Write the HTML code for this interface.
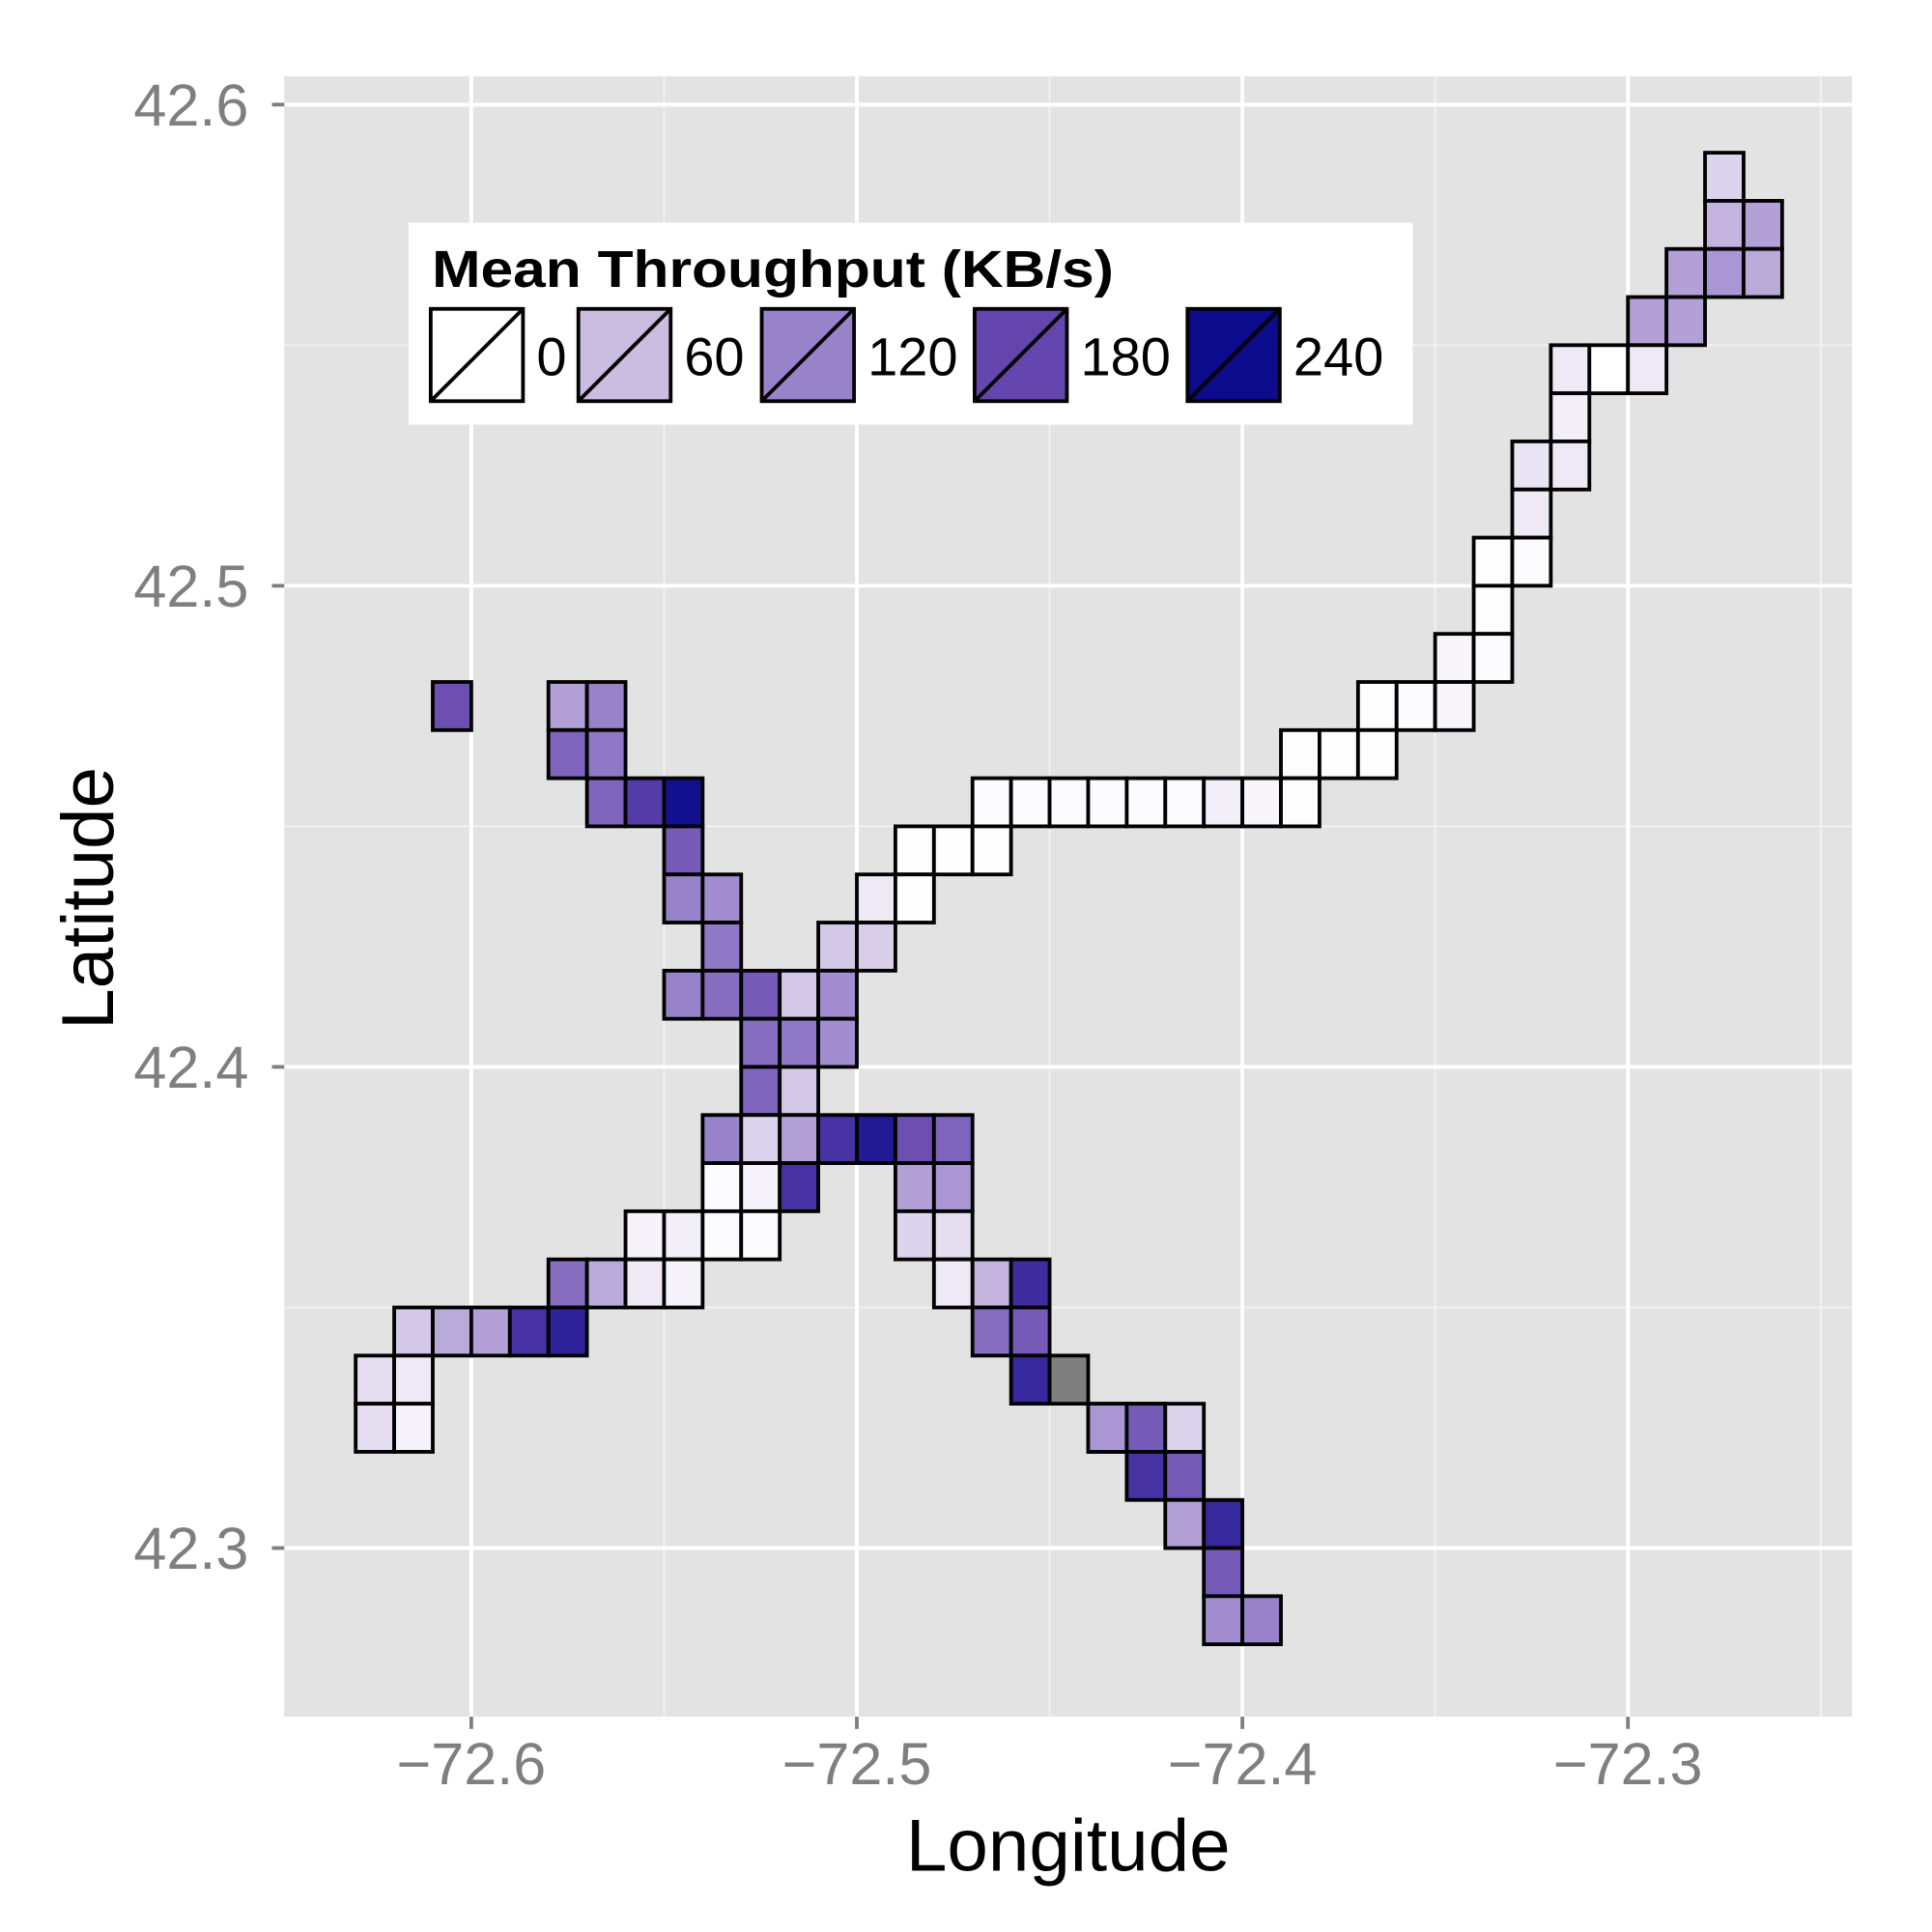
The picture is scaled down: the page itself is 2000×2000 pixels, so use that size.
<!DOCTYPE html>
<html><head><meta charset="utf-8"><style>html,body{margin:0;padding:0;background:#fff}svg{display:block}</style></head>
<body>
<svg id="chart" xmlns="http://www.w3.org/2000/svg" width="2000" height="2000" viewBox="0 0 1570 1570" font-family="'Liberation Sans', Arial, sans-serif">
<rect width="1570" height="1570" fill="#fff"/>
<rect x="231" y="62" width="1274" height="1333" fill="#e3e3e3"/>
<g id="grid"></g>
<g id="cells"></g>
<g id="axes"></g>
<g>
<rect x="332" y="181" width="816" height="164" fill="#fff"/>
<text x="351" y="233" font-size="42" font-weight="bold" textLength="554" lengthAdjust="spacingAndGlyphs">Mean Throughput (KB/s)</text>
<g id="legend-keys"></g>
</g>
<text x="868" y="1520" font-size="60" text-anchor="middle">Longitude</text>
<text transform="translate(92,730) rotate(-90)" font-size="60" text-anchor="middle">Latitude</text>
</svg>
<script>
const xTicks = [-72.6, -72.5, -72.4, -72.3];
const xTickLabels = ["\u221272.6", "\u221272.5", "\u221272.4", "\u221272.3"];
const yTicks = [42.3, 42.4, 42.5, 42.6];
const yTickLabels = ["42.3", "42.4", "42.5", "42.6"];
const xMinor = [-72.55, -72.45, -72.35, -72.25];
const yMinor = [42.35, 42.45, 42.55];
const legendValues = [0, 60, 120, 180, 240];
// cells: column index (lon left = -72.63 + c*0.01), row index (lat top = 42.59 - r*0.01), value (KB/s, null = NA)
const cellCols = [35,35,36,34,35,36,33,34,31,32,33,31,30,31,30,29,30,29,28,29,26,27,28,24,25,26,
16,17,18,19,20,21,22,23,24,6,7,8,2,5,6,5,6,14,15,16,8,13,14,8,9,12,13,9,8,9,10,11,12,10,11,12,10,11,
9,10,11,12,13,14,15,9,10,11,14,15,7,8,9,10,14,15,5,6,7,8,15,16,17,1,2,3,4,5,16,17,0,1,17,18,19,20,0,1,19,20,21,20,21,21,22,22,22,23];
const cellRows = [0,1,1,2,2,2,3,3,4,4,4,5,6,6,7,8,8,9,10,10,11,11,11,12,12,12,
13,13,13,13,13,13,13,13,13,13,13,13,11,11,11,12,12,14,14,14,14,15,15,15,15,16,16,16,17,17,17,17,17,18,18,18,19,19,
20,20,20,20,20,20,20,21,21,21,21,21,22,22,22,22,22,22,23,23,23,23,23,23,23,24,24,24,24,24,24,24,25,25,25,25,26,26,26,26,26,26,26,27,27,28,28,29,30,30];
const cellValues = [40,70,90,90,100,80,90,90,20,0,20,15,25,20,20,2,5,2,8,3,2,5,8,2,2,2,
3,3,5,5,5,5,15,8,2,150,190,235,170,90,120,150,130,2,2,2,160,20,2,120,110,50,45,130,120,140,160,50,110,140,130,110,150,50,
120,40,90,200,225,170,150,3,10,200,90,100,10,15,5,3,40,30,140,80,20,10,20,70,205,50,80,90,200,215,140,160,30,20,210,null,190,100,30,10,100,160,40,200,160,90,210,160,110,120];

const NS = "http://www.w3.org/2000/svg";
const x = lon => 383 + (lon + 72.6) * 3133;
const y = lat => 85 + (42.6 - lat) * 3910;
const stops = [[255,255,255],[203,189,226],[152,131,203],[100,69,173],[11,11,140]];
function color(v){
  if (v === null) return "#7f7f7f";
  const t = Math.max(0, Math.min(240, v)) / 60; const i = Math.min(3, Math.floor(t)); const f = t - i;
  const c = stops[i].map((a, k) => Math.round(a + (stops[i+1][k] - a) * f));
  return "rgb(" + c.join(",") + ")";
}
function mk(tag, attrs, parent){ const e = document.createElementNS(NS, tag); for (const k in attrs) e.setAttribute(k, attrs[k]); parent.appendChild(e); return e; }
const grid = document.getElementById("grid");
xMinor.forEach(v => { const l = mk("line", {x1:x(v), x2:x(v), y1:62, y2:1395, stroke:"#f2f2f2", "stroke-width":1.5}, grid);

 });
yMinor.forEach(v => { const l = mk("line", {y1:y(v), y2:y(v), x1:231, x2:1505, stroke:"#f2f2f2", "stroke-width":1.5}, grid);

 });
xTicks.forEach(v => { const l = mk("line", {x1:x(v), x2:x(v), y1:62, y2:1395, stroke:"#fff", "stroke-width":3}, grid);

 });
yTicks.forEach(v => { const l = mk("line", {y1:y(v), y2:y(v), x1:231, x2:1505, stroke:"#fff", "stroke-width":3}, grid);

 });

const cells = document.getElementById("cells");
const cw = x(-72.62) - x(-72.63), ch = y(42.58) - y(42.59);
cellValues.forEach((v, i) => {
  const lon = -72.63 + cellCols[i] * 0.01, lat = 42.59 - cellRows[i] * 0.01;
  const r = mk("rect", {x:x(lon), y:y(lat), width:cw, height:ch, fill:color(v), stroke:"#000", "stroke-width":3}, cells);
  
  
});

const axes = document.getElementById("axes");
xTicks.forEach((v, i) => {
  const t = mk("line", {x1:x(v), x2:x(v), y1:1395, y2:1405, stroke:"#7f7f7f", "stroke-width":3}, axes);
  
  
  const s = mk("text", {x:x(v), y:1450, "font-size":48, fill:"#7f7f7f", "text-anchor":"middle"}, axes);
  s.textContent = xTickLabels[i];
  
  
});
yTicks.forEach((v, i) => {
  const t = mk("line", {x1:221, x2:231, y1:y(v), y2:y(v), stroke:"#7f7f7f", "stroke-width":3}, axes);
  
  
  const s = mk("text", {x:202, y:y(v) + 17, "font-size":48, fill:"#7f7f7f", "text-anchor":"end"}, axes);
  s.textContent = yTickLabels[i];
  
  
});

const lk = document.getElementById("legend-keys");
const keyX = [350, 470, 619, 792, 965];
legendValues.forEach((v, i) => {
  const g = mk("g", {}, lk);
  
  
  mk("rect", {x:keyX[i], y:251, width:75, height:75, fill:color(v), stroke:"#000", "stroke-width":3}, g);
  mk("line", {x1:keyX[i], y1:326, x2:keyX[i] + 75, y2:251, stroke:"#000", "stroke-width":3}, g);
  const s = mk("text", {x:keyX[i] + 86, y:305, "font-size":44}, g);
  s.textContent = String(v);
});
</script>
</body></html>
